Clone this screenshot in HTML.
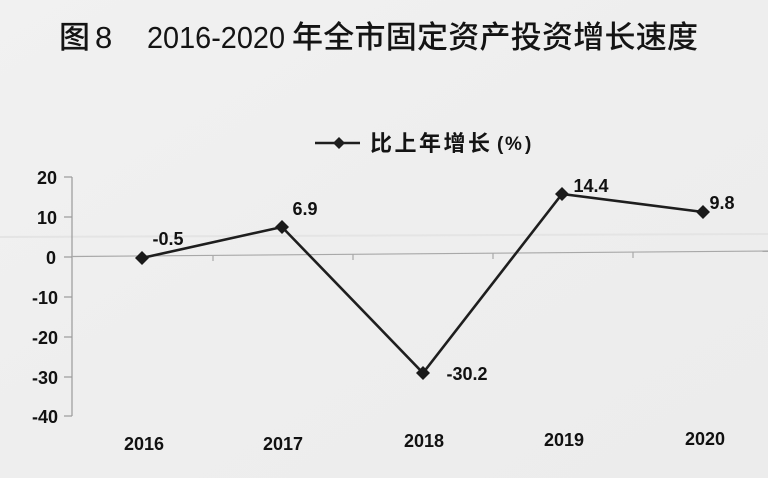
<!DOCTYPE html>
<html>
<head>
<meta charset="utf-8">
<style>
  html, body { margin: 0; padding: 0; width: 768px; height: 478px; overflow: hidden; background: #efefef; }
  svg { display: block; }
  .cjk { font-family: "Noto Sans CJK SC", "WenQuanYi Zen Hei", sans-serif; }
  .lat { font-family: "Liberation Sans", "Noto Sans CJK SC", sans-serif; }
</style>
</head>
<body>
<svg width="768" height="478" viewBox="0 0 768 478" xmlns="http://www.w3.org/2000/svg">
  <defs>
    <linearGradient id="bg" x1="0" y1="0" x2="1" y2="1">
      <stop offset="0" stop-color="#f1f1f1"/>
      <stop offset="0.5" stop-color="#eeeeee"/>
      <stop offset="1" stop-color="#ececec"/>
    </linearGradient>
  </defs>
  <rect x="0" y="0" width="768" height="478" fill="url(#bg)"/>
  <!-- faint bleed-through line -->
  <line x1="0" y1="237" x2="768" y2="234" stroke="#e4e4e4" stroke-width="2"/>

  <!-- Title -->
  <text class="cjk" x="59" y="48" font-size="31" font-weight="500" fill="#141414">图</text>
  <text class="lat" x="95" y="48" font-size="31" fill="#141414">8</text>
  <text class="lat" x="147" y="48" font-size="31" fill="#141414" textLength="138" lengthAdjust="spacingAndGlyphs">2016-2020</text>
  <text class="cjk" x="292" y="48" font-size="31" font-weight="500" fill="#141414" textLength="406">年全市固定资产投资增长速度</text>

  <!-- Legend -->
  <line x1="315" y1="143" x2="360" y2="143" stroke="#1e1e1e" stroke-width="2.5"/>
  <path d="M339 137 L345 143 L339 149 L333 143 Z" fill="#1e1e1e"/>
  <text class="cjk" x="370" y="151" font-size="22" font-weight="bold" fill="#141414" textLength="120">比上年增长</text>
  <text class="lat" x="497" y="150" font-size="19" font-weight="bold" fill="#141414">(</text>
  <text class="lat" x="505" y="150" font-size="19" font-weight="bold" fill="#141414">%</text>
  <text class="lat" x="525" y="150" font-size="19" font-weight="bold" fill="#141414">)</text>

  <!-- Y axis -->
  <line x1="72" y1="177" x2="72" y2="416" stroke="#9a9a9a" stroke-width="1.2"/>
  <g stroke="#9a9a9a" stroke-width="1.2">
    <line x1="64" y1="177" x2="72" y2="177"/>
    <line x1="64" y1="217" x2="72" y2="217"/>
    <line x1="64" y1="257" x2="72" y2="257"/>
    <line x1="64" y1="297" x2="72" y2="297"/>
    <line x1="64" y1="337" x2="72" y2="337"/>
    <line x1="64" y1="377" x2="72" y2="377"/>
    <line x1="64" y1="416" x2="72" y2="416"/>
  </g>
  <g class="lat" font-size="18" font-weight="bold" fill="#111" text-anchor="end">
    <text x="57" y="184">20</text>
    <text x="57" y="224">10</text>
    <text x="56" y="264">0</text>
    <text x="58" y="304">-10</text>
    <text x="58" y="344">-20</text>
    <text x="58" y="384">-30</text>
    <text x="58" y="423">-40</text>
  </g>

  <!-- Zero line -->
  <line x1="72" y1="256.5" x2="768" y2="251" stroke="#a8a8a8" stroke-width="1.2"/>
  <g stroke="#a8a8a8" stroke-width="1.2">
    <line x1="213" y1="255.5" x2="213" y2="261"/>
    <line x1="353" y1="254.5" x2="353" y2="260"/>
    <line x1="493" y1="253.5" x2="493" y2="259"/>
    <line x1="633" y1="252.5" x2="633" y2="258"/>
  </g>

  <!-- X labels -->
  <g class="lat" font-size="18" font-weight="bold" fill="#111" text-anchor="middle">
    <text x="144" y="450">2016</text>
    <text x="283" y="450">2017</text>
    <text x="424" y="447">2018</text>
    <text x="564" y="446">2019</text>
    <text x="705" y="445">2020</text>
  </g>

  <!-- Series -->
  <polyline points="142,258 282,227 423,373 562,194 703,212" fill="none" stroke="#1e1e1e" stroke-width="2.6" stroke-linejoin="miter"/>
  <g fill="#1a1a1a">
    <path d="M142 251 L149 258 L142 265 L135 258 Z"/>
    <path d="M282 220 L289 227 L282 234 L275 227 Z"/>
    <path d="M423 366 L430 373 L423 380 L416 373 Z"/>
    <path d="M562 187 L569 194 L562 201 L555 194 Z"/>
    <path d="M703 205 L710 212 L703 219 L696 212 Z"/>
  </g>

  <!-- Data labels -->
  <g class="lat" font-size="18" font-weight="bold" fill="#111" text-anchor="middle">
    <text x="168" y="245">-0.5</text>
    <text x="305" y="215">6.9</text>
    <text x="467" y="380">-30.2</text>
    <text x="591" y="192">14.4</text>
    <text x="722" y="209">9.8</text>
  </g>
</svg>
</body>
</html>
